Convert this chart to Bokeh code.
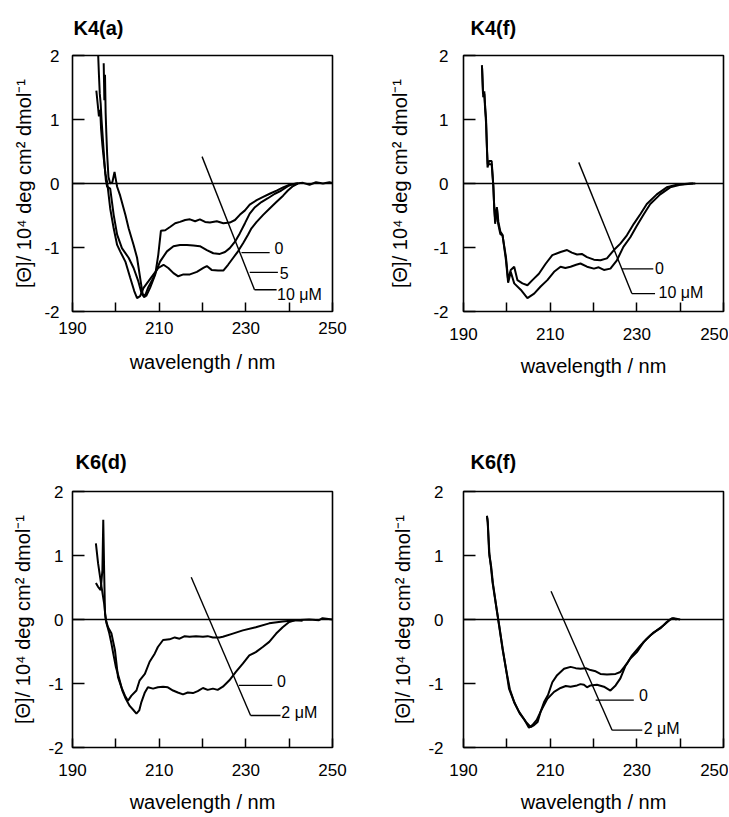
from bokeh.plotting import figure
from bokeh.models import Range1d, FixedTicker, Label, Span, Title
from bokeh.layouts import gridplot
from bokeh.embed import file_html
from bokeh.resources import INLINE

FONT = "Liberation Sans"

# ---------------- data (wavelength nm, [theta] / 1e4) ----------------
# K4(a)
k4a_0_x = [197.2, 197.35, 197.5, 197.65, 197.8, 198.0, 198.3, 198.7, 199.2, 199.7, 199.9, 200.3,
           201.0, 202.2, 202.95, 204.1, 204.9, 205.6, 206.2, 207.0, 207.9, 209.1, 209.8, 210.4,
           211.4, 212.5, 213.7, 214.8, 216.0, 217.1, 218.3, 219.4, 220.6, 221.7, 223.3, 224.8,
           226.3, 227.5, 228.6, 229.8, 230.9, 232.5, 234.0, 235.5, 237.1, 238.6, 240.1, 241.6,
           243.2, 244.7, 246.2, 247.8, 249.3, 250.0]
k4a_0_y = [1.88, 1.3, 1.7, 1.1, 0.8, 0.45, 0.1, 0.0, 0.02, 0.18, 0.1, -0.05,
           -0.19, -0.49, -0.70, -0.96, -1.16, -1.47, -1.73, -1.76, -1.63, -1.42, -1.11, -0.74,
           -0.73, -0.68, -0.62, -0.60, -0.57, -0.56, -0.59, -0.56, -0.60, -0.61, -0.59, -0.62,
           -0.61, -0.57, -0.49, -0.42, -0.33, -0.26, -0.21, -0.16, -0.11, -0.06, -0.02, 0.0,
           0.01, -0.02, 0.02, 0.0, 0.02, 0.01]
k4a_5_x = [195.9, 196.1, 196.3, 196.5, 196.7, 196.9, 197.1, 197.4, 197.7, 198.0, 198.7, 199.5,
           200.3, 201.4, 202.95, 204.1, 205.2, 206.0, 206.6, 207.5, 208.7, 210.2, 211.8, 213.3,
           214.8, 216.4, 217.9, 219.4, 221.0, 222.5, 224.0, 225.2, 226.3, 227.5, 228.6, 229.8,
           230.9, 232.1, 233.6, 235.1, 236.7, 238.2, 239.7, 240.9, 242.0]
k4a_5_y = [2.05, 1.7, 1.4, 1.25, 1.0, 0.8, 0.6, 0.3, 0.05, -0.05, -0.08, -0.49,
           -0.80, -1.01, -1.16, -1.32, -1.53, -1.73, -1.78, -1.62, -1.47, -1.22, -1.06, -0.98,
           -0.96, -0.96, -0.97, -0.98, -1.04, -1.09, -1.10, -1.07, -1.01, -0.91, -0.78, -0.62,
           -0.47, -0.37, -0.29, -0.23, -0.16, -0.11, -0.04, -0.01, 0.0]
k4a_10_x = [195.5, 195.8, 196.1, 196.4, 196.6, 196.9, 197.2, 197.6, 198.0, 198.7, 199.5, 200.3,
            201.0, 202.2, 203.3, 204.25, 204.9, 205.6, 206.4, 207.5, 208.7, 209.8, 211.0, 212.1,
            213.3, 214.4, 215.6, 217.1, 218.7, 220.2, 221.0, 222.1, 223.6, 224.8, 225.9, 227.1,
            228.2, 229.4, 230.5, 231.3, 232.5, 234.0, 235.5, 237.05, 238.6, 239.7, 240.9, 242.0]
k4a_10_y = [1.45, 1.25, 1.05, 1.15, 0.85, 0.6, 0.4, 0.15, 0.02, -0.39, -0.70, -0.96,
            -1.06, -1.22, -1.47, -1.68, -1.79, -1.76, -1.63, -1.53, -1.42, -1.32, -1.27, -1.32,
            -1.40, -1.45, -1.42, -1.42, -1.38, -1.32, -1.29, -1.35, -1.36, -1.36, -1.27, -1.16,
            -1.06, -0.93, -0.80, -0.70, -0.60, -0.49, -0.39, -0.29, -0.19, -0.11, -0.04, 0.0]

# K4(f)
k4f_0_x = [194.25, 194.5, 194.8, 195.0, 195.2, 195.4, 195.55, 195.9, 196.5, 196.85, 197.1, 197.3,
           197.5, 197.7, 198.0, 198.5, 199.0, 199.8, 200.3, 200.9, 201.7, 202.45, 203.6, 204.75,
           205.9, 207.4, 209.0, 210.5, 212.4, 213.9, 215.0, 216.2, 217.3, 218.5, 220.1, 221.6,
           223.1, 224.7, 226.2, 227.7, 229.3, 230.8, 232.3, 234.6, 236.9, 239.2, 242.3, 243.5]
k4f_0_y = [1.85, 1.4, 1.44, 1.2, 1.02, 0.56, 0.25, 0.35, 0.35, -0.01, -0.37, -0.63,
           -0.45, -0.37, -0.63, -0.79, -0.81, -1.15, -1.51, -1.35, -1.30, -1.51, -1.56, -1.59,
           -1.51, -1.41, -1.25, -1.12, -1.07, -1.04, -1.08, -1.11, -1.10, -1.15, -1.19, -1.20,
           -1.17, -1.04, -0.94, -0.81, -0.63, -0.48, -0.32, -0.17, -0.06, -0.02, 0.0, 0.0]
k4f_10_x = [194.3, 194.55, 194.8, 195.0, 195.2, 195.45, 195.6, 195.95, 196.5, 196.9, 197.1, 197.35,
            197.55, 197.75, 198.05, 198.5, 199.0, 199.8, 200.3, 200.9, 201.7, 203.2, 204.75, 206.3,
            207.8, 209.35, 210.9, 212.4, 213.5, 214.7, 216.0, 217.0, 218.5, 220.1, 221.2, 222.4,
            223.9, 225.4, 226.9, 228.5, 230.0, 231.6, 233.1, 235.4, 237.7, 240.0, 243.0]
k4f_10_y = [1.8, 1.35, 1.4, 1.15, 0.95, 0.5, 0.3, 0.3, 0.3, -0.05, -0.4, -0.6,
            -0.5, -0.4, -0.6, -0.75, -0.8, -1.2, -1.55, -1.38, -1.56, -1.66, -1.79, -1.72,
            -1.61, -1.51, -1.38, -1.30, -1.32, -1.30, -1.27, -1.25, -1.30, -1.33, -1.31, -1.35,
            -1.33, -1.20, -0.99, -0.84, -0.66, -0.48, -0.32, -0.17, -0.06, -0.02, 0.0]

# K6(d)
k6d_0_x = [195.4, 195.9, 196.7, 197.3, 197.7, 198.2, 199.0, 199.8, 200.5, 201.3, 202.1, 202.8,
           203.6, 204.75, 205.5, 206.7, 207.8, 209.0, 209.7, 210.9, 212.4, 213.6, 214.7, 215.9,
           217.0, 218.5, 220.1, 221.2, 222.4, 223.9, 224.7, 227.0, 229.3, 232.3, 235.4, 238.5,
           241.5, 244.6, 246.9, 247.7, 250.0]
k6d_0_y = [1.19, 0.88, 0.51, 0.25, -0.01, -0.12, -0.22, -0.48, -0.90, -1.06, -1.19, -1.27,
           -1.19, -1.11, -0.95, -0.85, -0.66, -0.53, -0.43, -0.32, -0.31, -0.28, -0.30, -0.26,
           -0.27, -0.26, -0.27, -0.26, -0.28, -0.28, -0.27, -0.22, -0.17, -0.12, -0.06, -0.03,
           -0.01, 0.0, -0.01, 0.02, 0.0]
k6d_2_x = [195.4, 195.9, 196.5, 196.9, 197.1, 197.3, 197.5, 197.85, 198.5, 199.0, 199.4, 200.0,
           200.8, 201.5, 202.3, 203.2, 204.0, 204.75, 205.4, 205.9, 206.7, 207.4, 208.6, 209.7,
           210.9, 212.0, 213.2, 214.3, 215.5, 216.6, 217.8, 218.9, 220.1, 221.2, 222.4, 223.5,
           224.7, 226.2, 227.7, 229.3, 230.8, 232.3, 233.9, 235.4, 237.0, 238.5, 240.0, 241.5,
           243.1]
k6d_2_y = [0.57, 0.51, 0.46, 0.77, 1.56, 0.77, 0.09, -0.06, -0.22, -0.38, -0.53, -0.74,
           -0.93, -1.11, -1.24, -1.35, -1.41, -1.47, -1.42, -1.29, -1.14, -1.06, -1.08, -1.06,
           -1.05, -1.06, -1.11, -1.14, -1.17, -1.14, -1.15, -1.12, -1.07, -1.10, -1.08, -1.10,
           -1.05, -0.95, -0.82, -0.69, -0.56, -0.51, -0.43, -0.35, -0.22, -0.12, -0.04, -0.01,
           -0.02]

# K6(f)
k6f_0_x = [195.4, 195.55, 195.9, 196.3, 196.7, 197.5, 198.2, 199.0, 199.8, 200.5, 201.7, 202.8,
           204.4, 205.5, 206.3, 207.1, 207.8, 208.6, 209.5, 210.5, 211.6, 213.2, 214.7, 215.9,
           217.0, 218.2, 219.3, 220.5, 221.6, 223.1, 225.1, 226.2, 227.7, 228.9, 230.8, 232.3,
           233.9, 235.4, 236.9, 238.1, 239.2]
k6f_0_y = [1.62, 1.57, 1.05, 0.84, 0.58, 0.22, -0.09, -0.46, -0.77, -1.08, -1.29, -1.44,
           -1.60, -1.68, -1.65, -1.60, -1.44, -1.29, -1.18, -0.98, -0.87, -0.77, -0.74, -0.76,
           -0.77, -0.76, -0.79, -0.81, -0.85, -0.86, -0.85, -0.82, -0.69, -0.56, -0.41, -0.30,
           -0.20, -0.14, -0.04, 0.02, 0.0]
k6f_2_x = [195.4, 195.6, 196.0, 196.4, 196.8, 197.6, 198.3, 199.1, 199.85, 200.7, 201.8, 203.0,
           204.1, 205.1, 205.9, 206.9, 207.8, 209.35, 210.9, 212.4, 213.6, 214.7, 216.2, 217.0,
           217.8, 218.5, 219.3, 220.8, 222.4, 223.9, 225.1, 226.2, 227.4, 228.5, 230.0, 231.6,
           233.1, 234.6, 236.2, 237.7, 238.5, 240.0]
k6f_2_y = [1.60, 1.52, 1.0, 0.82, 0.56, 0.19, -0.12, -0.48, -0.79, -1.09, -1.31, -1.47,
           -1.57, -1.69, -1.65, -1.57, -1.44, -1.24, -1.13, -1.07, -1.04, -1.05, -1.03, -1.01,
           -1.02, -1.06, -1.03, -1.02, -1.05, -1.11, -1.03, -0.92, -0.72, -0.61, -0.51, -0.35,
           -0.25, -0.17, -0.09, 0.0, 0.02, 0.0]

# concentration arrows (start, end) and leader lines (x0, x1, y), labels (x, y, text)
k4a_arrow = [(219.9, 0.42), (232.0, -1.66)]
k4a_leaders = [(229.0, 235.5, -1.08), (230.9, 237.4, -1.39), (232.0, 237.1, -1.66)]
k4a_labels = [(236.6, -1.0, "0"), (237.8, -1.40, "5"), (237.2, -1.74, "10 μM")]

k4f_arrow = [(216.6, 0.33), (228.85, -1.72)]
k4f_leaders = [(226.6, 233.8, -1.335), (228.85, 234.2, -1.72)]
k4f_labels = [(234.2, -1.32, "0"), (235.0, -1.71, "10 μM")]

k6d_arrow = [(217.4, 0.66), (231.1, -1.5)]
k6d_leaders = [(228.4, 236.1, -1.03), (231.1, 238.0, -1.5)]
k6d_labels = [(237.2, -0.96, "0"), (238.2, -1.46, "2 μM")]

k6f_arrow = [(210.2, 0.44), (224.3, -1.73)]
k6f_leaders = [(220.5, 229.3, -1.26), (224.3, 231.25, -1.73)]
k6f_labels = [(230.5, -1.18, "0"), (231.6, -1.70, "2 μM")]

x_ticks = [190, 200, 210, 220, 230, 240, 250]
x_tick_labels = ["190", "", "210", "", "230", "", "250"]
y_ticks = [-2, -1, 0, 1, 2]
y_tick_labels = ["-2", "-1", "0", "1", "2"]

X_LABEL = "wavelength / nm"
Y_LABEL = "[Θ]/ 10⁴ deg cm² dmol⁻¹"


def panel(title, curves, arrow, leaders, labels, cfg):
    p = figure(width=cfg["w"], height=cfg["h"], output_backend="svg", toolbar_location=None,
               x_range=Range1d(190, 250), y_range=Range1d(-2, 2),
               min_border_left=cfg["bl"], min_border_right=cfg["br"],
               min_border_top=cfg["bt"], min_border_bottom=cfg["bb"])
    p.grid.visible = False
    p.outline_line_color = "black"
    p.outline_line_width = 1.6
    p.background_fill_color = "white"
    p.border_fill_color = "white"

    p.add_layout(Title(text=title, align="left", offset=cfg["tx"], standoff=cfg["ty"],
                       vertical_align="top",
                       text_font=FONT, text_font_size="20px", text_font_style="bold",
                       text_color="black"), "above")

    xa = p.xaxis[0]
    xa.ticker = FixedTicker(ticks=x_ticks)
    xa.major_label_overrides = {t: s for t, s in zip(x_ticks, x_tick_labels)}
    xa.major_tick_in = 9
    xa.major_tick_out = 0
    xa.major_tick_line_width = 1.5
    xa.minor_tick_line_color = None
    xa.axis_line_color = None
    xa.major_label_standoff = cfg["xls"]
    xa.axis_label = X_LABEL
    xa.axis_label_standoff = cfg["xals"]

    ya = p.yaxis[0]
    ya.ticker = FixedTicker(ticks=y_ticks)
    ya.major_label_overrides = {t: s for t, s in zip(y_ticks, y_tick_labels)}
    ya.major_tick_in = 12
    ya.major_tick_out = 0
    ya.major_tick_line_width = 1.5
    ya.minor_tick_line_color = None
    ya.axis_line_color = None
    ya.major_label_standoff = cfg["yls"]
    ya.axis_label = Y_LABEL
    ya.axis_label_standoff = cfg["yals"]

    for ax in (xa, ya):
        ax.major_label_text_font = FONT
        ax.major_label_text_font_size = "17px"
        ax.major_label_text_color = "black"
        ax.axis_label_text_font = FONT
        ax.axis_label_text_font_size = "20px"
        ax.axis_label_text_font_style = "normal"
        ax.axis_label_text_color = "black"
        ax.major_tick_line_color = "black"

    p.add_layout(Span(location=0, dimension="width", line_color="black", line_width=1.3))

    for cx, cy in curves:
        p.line(cx, cy, line_color="black", line_width=2.0)

    p.line([arrow[0][0], arrow[1][0]], [arrow[0][1], arrow[1][1]], line_color="black", line_width=1.4)
    for x0, x1, yy in leaders:
        p.line([x0, x1], [yy, yy], line_color="black", line_width=1.3)
    for lx, ly, txt in labels:
        p.add_layout(Label(x=lx, y=ly, text=txt, text_font=FONT, text_font_size="16px",
                           text_baseline="middle", text_align="left", text_color="black"))
    return p


cfg1 = dict(w=364, h=408, bl=72, br=31, bt=55, bb=95, xls=10, xals=14, yls=13, yals=6, tx=1, ty=29)
cfg2 = dict(w=364, h=408, bl=99, br=5, bt=55, bb=97, xls=16, xals=12, yls=15, yals=19, tx=7, ty=29)
cfg3 = dict(w=364, h=408, bl=70, br=32, bt=83, bb=69, xls=16, xals=12, yls=9, yals=11, tx=3, ty=33)
cfg4 = dict(w=364, h=408, bl=99, br=5, bt=83, bb=68, xls=16, xals=12, yls=20, yals=11, tx=7, ty=33)

p1 = panel("K4(a)", [(k4a_0_x, k4a_0_y), (k4a_5_x, k4a_5_y), (k4a_10_x, k4a_10_y)],
           k4a_arrow, k4a_leaders, k4a_labels, cfg1)
p2 = panel("K4(f)", [(k4f_0_x, k4f_0_y), (k4f_10_x, k4f_10_y)],
           k4f_arrow, k4f_leaders, k4f_labels, cfg2)
p3 = panel("K6(d)", [(k6d_0_x, k6d_0_y), (k6d_2_x, k6d_2_y)],
           k6d_arrow, k6d_leaders, k6d_labels, cfg3)
p4 = panel("K6(f)", [(k6f_0_x, k6f_0_y), (k6f_2_x, k6f_2_y)],
           k6f_arrow, k6f_leaders, k6f_labels, cfg4)

grid = gridplot([[p1, p2], [p3, p4]], toolbar_location=None)

open("out.html", "w").write(file_html(grid, INLINE))
